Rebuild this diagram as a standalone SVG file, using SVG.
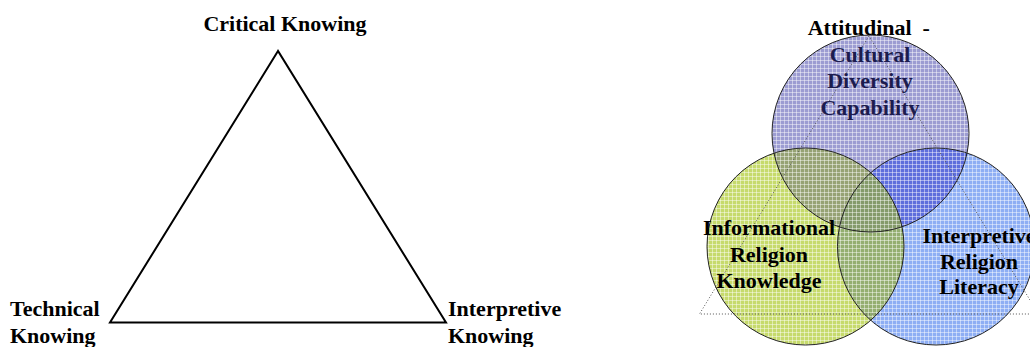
<svg xmlns="http://www.w3.org/2000/svg" width="1030" height="347" viewBox="0 0 1030 347">
<style>
.t{font-family:"Liberation Serif","Times New Roman",serif;font-weight:bold;font-size:22px;fill:#000}
.c{text-anchor:middle}
.navy{fill:#1c1c4e}
.edge{fill:none;stroke:#222;stroke-width:1}
.tri{fill:none;stroke:#000;stroke-width:2;stroke-linejoin:miter}
.dot{fill:none;stroke:#555;stroke-width:1;stroke-dasharray:1 2}
.grid{stroke:#fff;stroke-opacity:0.45;stroke-width:1}
</style>
<defs>
<pattern id="pTop" width="4" height="4" patternUnits="userSpaceOnUse">
<rect width="4" height="4" fill="#9c9cd2"/><path class="grid" d="M0 0.5H4M0.5 0V4"/>
</pattern>
<pattern id="pGreen" width="4" height="4" patternUnits="userSpaceOnUse">
<rect width="4" height="4" fill="#c6da6c"/><path class="grid" d="M0 0.5H4M0.5 0V4"/>
</pattern>
<pattern id="pBlue" width="4" height="4" patternUnits="userSpaceOnUse">
<rect width="4" height="4" fill="#8eaef4"/><path class="grid" d="M0 0.5H4M0.5 0V4"/>
</pattern>
<pattern id="pTG" width="4" height="4" patternUnits="userSpaceOnUse">
<rect width="4" height="4" fill="#96a274"/><path class="grid" d="M0 0.5H4M0.5 0V4"/>
</pattern>
<pattern id="pTB" width="4" height="4" patternUnits="userSpaceOnUse">
<rect width="4" height="4" fill="#5e6edc"/><path class="grid" d="M0 0.5H4M0.5 0V4"/>
</pattern>
<pattern id="pGB" width="4" height="4" patternUnits="userSpaceOnUse">
<rect width="4" height="4" fill="#94ae70"/><path class="grid" d="M0 0.5H4M0.5 0V4"/>
</pattern>
<pattern id="pTGB" width="4" height="4" patternUnits="userSpaceOnUse">
<rect width="4" height="4" fill="#849a6a"/><path class="grid" d="M0 0.5H4M0.5 0V4"/>
</pattern>
<clipPath id="cTop"><circle cx="870.5" cy="133.5" r="98.5"/></clipPath>
<clipPath id="cGreen"><circle cx="805.5" cy="246.5" r="98.5"/></clipPath>
</defs>
<rect width="1030" height="347" fill="#fff"/>

<g id="connectors">
<polygon class="tri" points="278,51 110,322.5 446,322.5"/>
</g>

<g id="critical-knowing">
<text class="t c" x="285" y="31">Critical Knowing</text>
</g>
<g id="technical-knowing">
<text class="t" x="10" y="316">Technical</text>
<text class="t" x="10" y="343">Knowing</text>
</g>
<g id="interpretive-knowing">
<text class="t" x="448" y="316">Interpretive</text>
<text class="t" x="448" y="343">Knowing</text>
</g>

<g id="venn-fills">
<circle cx="870.5" cy="133.5" r="98.5" fill="url(#pTop)"/>
<circle cx="936" cy="246.5" r="98.5" fill="url(#pBlue)"/>
<circle cx="805.5" cy="246.5" r="98.5" fill="url(#pGreen)"/>
<g clip-path="url(#cTop)"><circle cx="805.5" cy="246.5" r="98.5" fill="url(#pTG)"/></g>
<g clip-path="url(#cTop)"><circle cx="936" cy="246.5" r="98.5" fill="url(#pTB)"/></g>
<g clip-path="url(#cGreen)"><circle cx="936" cy="246.5" r="98.5" fill="url(#pGB)"/></g>
<g clip-path="url(#cTop)"><g clip-path="url(#cGreen)"><circle cx="936" cy="246.5" r="98.5" fill="url(#pTGB)"/></g></g>
</g>

<g id="cultural-diversity-circle">
<circle class="edge" cx="870.5" cy="133.5" r="98.5"/>
</g>
<g id="informational-circle">
<circle class="edge" cx="805.5" cy="246.5" r="98.5"/>
</g>
<g id="interpretive-circle">
<circle class="edge" cx="936" cy="246.5" r="98.5"/>
</g>

<g id="dotted-triangle">
<polygon class="dot" points="869,36 699.5,314 1038.5,314"/>
</g>

<g id="cultural-diversity">
<text class="t" x="807.7" y="35" xml:space="preserve">Attitudinal  -</text>
<text class="t c navy" x="870" y="61.5">Cultural</text>
<text class="t c navy" x="870" y="88.3">Diversity</text>
<text class="t c navy" x="870" y="115">Capability</text>
</g>
<g id="informational">
<text class="t c" x="769" y="235">Informational</text>
<text class="t c" x="769" y="261.5">Religion</text>
<text class="t c" x="769" y="287.5">Knowledge</text>
</g>
<g id="interpretive">
<text class="t c" x="979" y="243.3">Interpretive</text>
<text class="t c" x="979" y="268.5">Religion</text>
<text class="t c" x="979" y="294">Literacy</text>
</g>
</svg>
